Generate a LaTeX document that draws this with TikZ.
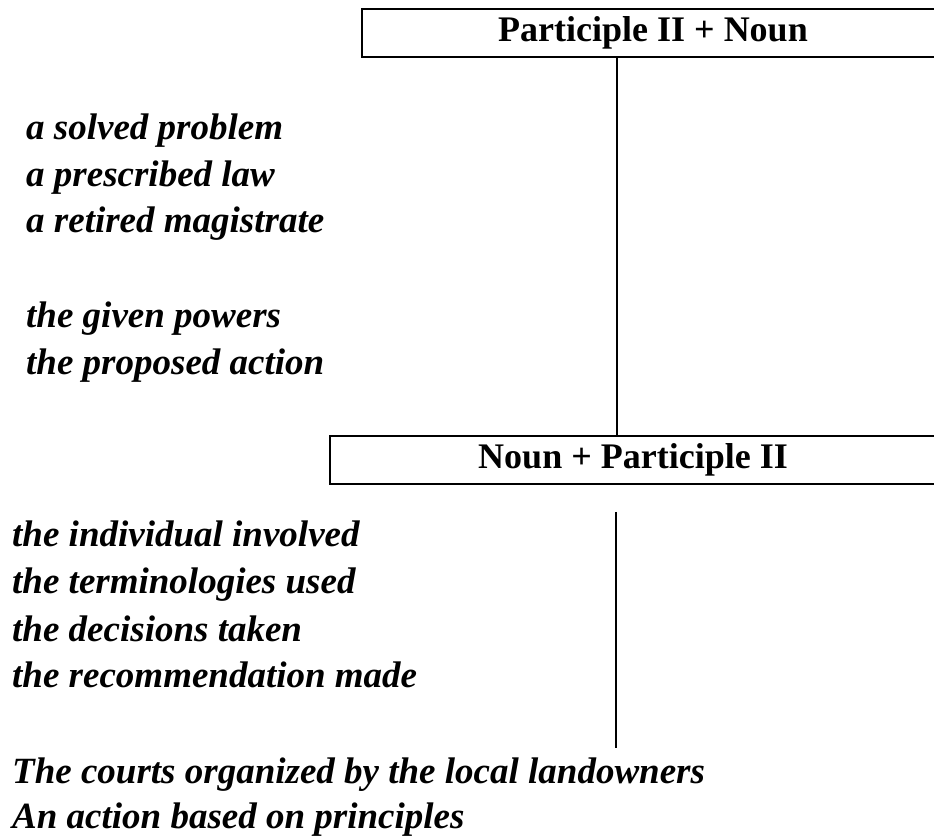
\documentclass[tikz,border=0pt]{standalone}
\usepackage{fontspec}
\setmainfont{Liberation Serif}
\begin{document}
\begin{tikzpicture}[x=1pt,y=1pt,
  hbox/.style={draw,line width=2pt,inner sep=0pt,font=\fontsize{36}{40}\selectfont\bfseries},
  ex/.style={inner sep=0pt,anchor=base west,font=\fontsize{37}{44}\selectfont\bfseries\itshape},
  conn/.style={line width=2pt}]
\useasboundingbox (0,0) rectangle (934,836);
% header boxes
\node[hbox,minimum width=574pt,minimum height=48pt] (box1) at (649,803) {\hspace*{8pt}Participle II + Noun};
\node[hbox,minimum width=606pt,minimum height=48pt] (box2) at (633,376) {Noun + Participle II};
\coordinate (xa) at (617,0);
\draw[conn] (box1.south -| xa) -- (box2.north -| xa);
% free line
\coordinate (l1) at (616,324);
\coordinate (l2) at (616,88);
\draw[conn] (l1) -- (l2);
% group 1
\node[ex] (t1) at (26,696) {a solved problem};
\node[ex] (t2) at (26,649) {a prescribed law};
\node[ex] (t3) at (26,603) {a retired magistrate};
\node[ex] (t4) at (26,508) {the given powers};
\node[ex] (t5) at (26,461) {the proposed action};
% group 2
\node[ex] (u1) at (12,289) {the individual involved};
\node[ex] (u2) at (12,243) {the terminologies used};
\node[ex] (u3) at (12,195) {the decisions taken};
\node[ex] (u4) at (12,149) {the recommendation made};
\node[ex] (u5) at (12,53) {The courts organized by the local landowners};
\node[ex] (u6) at (12,8) {An action based on principles};
\end{tikzpicture}
\end{document}
